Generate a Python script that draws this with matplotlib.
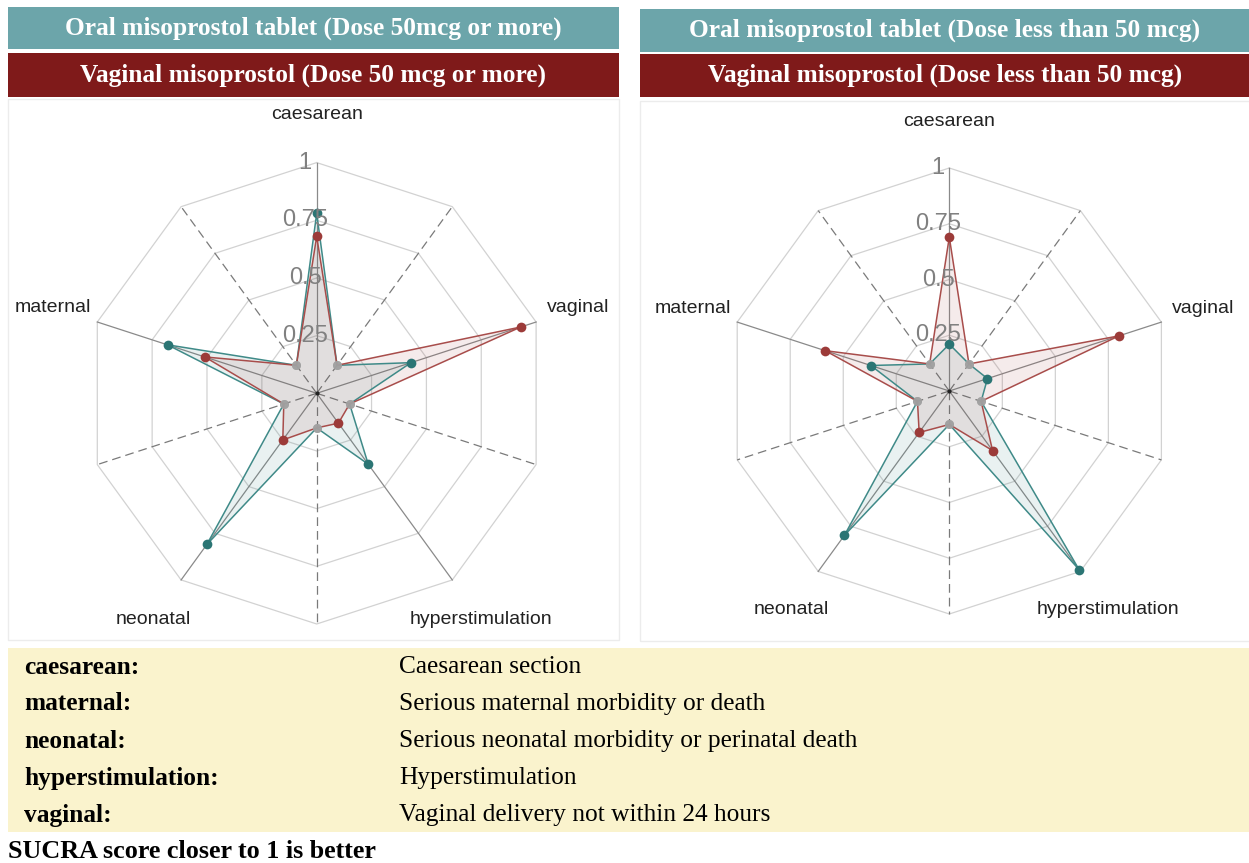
import numpy as np
import matplotlib
matplotlib.use("Agg")
import matplotlib.pyplot as plt
from matplotlib.patches import Rectangle

W, H = 1249, 863

# categories clockwise from the top
categories = ["caesarean", "vaginal", "hyperstimulation", "neonatal", "maternal"]
# spacer points between the categories
spacer = [0.15, 0.15, 0.15, 0.15, 0.15]

# SUCRA scores, dose 50 mcg or more
oral_high = [0.78, 0.43, 0.38, 0.81, 0.68]
vaginal_high = [0.68, 0.93, 0.16, 0.25, 0.51]
# SUCRA scores, dose less than 50 mcg
oral_low = [0.21, 0.18, 0.99, 0.80, 0.37]
vaginal_low = [0.69, 0.80, 0.33, 0.23, 0.585]

ticks = [0.25, 0.5, 0.75, 1.0]
tick_labels = ["0.25", "0.5", "0.75", "1"]

legend_keys = ["caesarean:", "maternal:", "neonatal:", "hyperstimulation:", "vaginal:"]
legend_desc = ["Caesarean section", "Serious maternal morbidity or death",
               "Serious neonatal morbidity or perinatal death", "Hyperstimulation",
               "Vaginal delivery not within 24 hours"]

teal_line = "#3f8a88"
teal_dot = "#2b7574"
red_line = "#a84d4b"
red_dot = "#9c3b39"
teal_bar = "#6ca5aa"
red_bar = "#7f1a1a"

# label positions in radius units
label_pos = {"caesarean": (0, 1.21, "center"), "vaginal": (1.0, 0.37, "left"),
             "hyperstimulation": (0.71, -0.98, "center"), "neonatal": (-0.71, -0.98, "center"),
             "maternal": (-0.98, 0.37, "right")}

fig = plt.figure(figsize=(W / 100, H / 100), dpi=100)


def fx(x):
    return x / W


def fy(y):
    return 1 - y / H


def rect(x0, y0, x1, y1, **kw):
    fig.patches.append(Rectangle((fx(x0), fy(y1)), (x1 - x0) / W, (y1 - y0) / H,
                                 transform=fig.transFigure, figure=fig, **kw))


angles = np.deg2rad(90 - 36 * np.arange(10))


def interleave(vals):
    out = []
    for v, s in zip(vals, spacer):
        out += [v, s]
    return np.array(out)


def radar(cx, cy, R, oral, vag):
    lim = 1.3
    ax = fig.add_axes([fx(cx - lim * R), fy(cy + lim * R), 2 * lim * R / W, 2 * lim * R / H])
    ax.set_xlim(-lim, lim)
    ax.set_ylim(-lim, lim)
    ax.axis("off")
    ca, sa = np.cos(angles), np.sin(angles)
    # decagon grid
    for t in ticks:
        ax.plot(np.append(ca, ca[0]) * t, np.append(sa, sa[0]) * t, color="#d2d2d2", lw=0.9, zorder=1)
    # spokes
    for k in range(10):
        if k % 2 == 0:
            ax.plot([0, ca[k]], [0, sa[k]], color="#8a8a8a", lw=0.9, zorder=2)
        else:
            ax.plot([0, ca[k]], [0, sa[k]], color="#7a7a7a", lw=0.9, ls=(0, (7, 4)), zorder=2)
    for vals, lc, dc, fc in [(oral, teal_line, teal_dot, (0.18, 0.49, 0.49, 0.1)),
                             (vag, red_line, red_dot, (0.63, 0.25, 0.25, 0.1))]:
        r = interleave(vals)
        x, y = r * ca, r * sa
        ax.fill(x, y, color=fc, lw=0, zorder=3)
        ax.plot(np.append(x, x[0]), np.append(y, y[0]), color=lc, lw=1.1, zorder=4)
        ax.plot(x[0::2], y[0::2], "o", color=dc, ms=7, mec="none", zorder=6)
        ax.plot(x[1::2], y[1::2], "o", color="#a0a0a0", alpha=0.8, ms=6.5, mec="none", zorder=5)
    ax.plot([0], [0], "o", color="#222222", ms=2, zorder=7)
    for t, s in zip(ticks, tick_labels):
        ax.text(-0.05, t, s, ha="center", va="center", fontsize=17, color="#808080",
                family="Liberation Sans", zorder=8)
    for c in categories:
        x, y, ha = label_pos[c]
        ax.text(x, y, c, ha=ha, va="center", fontsize=14, color="#222222", family="Liberation Sans")


# panel frames
rect(8, 99, 619, 640, fill=False, ec="#ececec", lw=1)
rect(640, 101, 1252, 641, fill=False, ec="#ececec", lw=1)

# header bars
bars = [(8, 7, 619, 49, teal_bar, "Oral misoprostol tablet (Dose 50mcg or more)"),
        (8, 53, 619, 97, red_bar, "Vaginal misoprostol (Dose 50 mcg or more)"),
        (640, 9, 1252, 52, teal_bar, "Oral misoprostol tablet (Dose less than 50 mcg)"),
        (640, 54, 1252, 97, red_bar, "Vaginal misoprostol (Dose less than 50 mcg)")]
for x0, y0, x1, y1, col, txt in bars:
    rect(x0, y0, x1, y1, color=col, lw=0)
    xc = 313 if x0 < 600 else 945
    fig.text(fx(xc), fy((y0 + y1) / 2), txt, ha="center", va="center", color="white",
             fontsize=18.3, fontweight="bold", family="Liberation Serif")

radar(316.7, 393.3, 230.7, oral_high, vaginal_high)
radar(949.3, 391.0, 223.0, oral_low, vaginal_low)

# definitions box
rect(8, 648, 1252, 832, color="#faf3cd", lw=0)
row_y = [667, 704, 741, 778, 815]
for y, k, d in zip(row_y, legend_keys, legend_desc):
    fig.text(fx(24), fy(y), k, ha="left", va="center", fontsize=18.3, fontweight="bold",
             family="Liberation Serif", color="black")
    fig.text(fx(399), fy(y), d, ha="left", va="center", fontsize=18.3,
             family="Liberation Serif", color="black")
fig.text(fx(8), fy(851), "SUCRA score closer to 1 is better", ha="left", va="center",
         fontsize=18.8, fontweight="bold", family="Liberation Serif", color="black")

fig.savefig("out.png", dpi=100, facecolor="white")
